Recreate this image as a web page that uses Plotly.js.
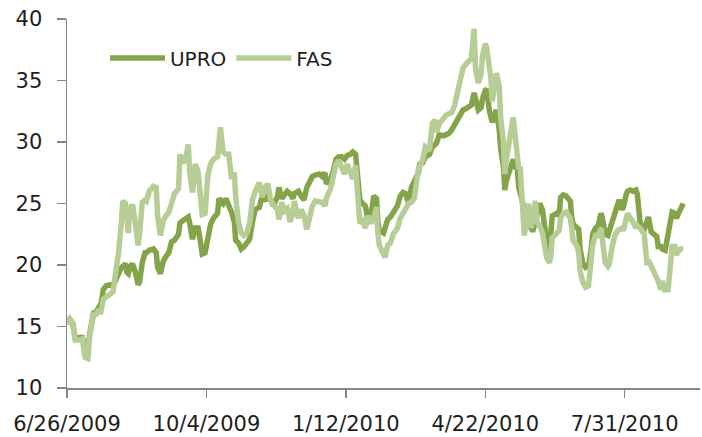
<!DOCTYPE html>
<html>
<head>
<meta charset="utf-8">
<script src="https://cdn.plot.ly/plotly-3.0.1.min.js"></script>
<style>html,body{margin:0;padding:0;background:#fff;}#chart{width:702px;height:437px;}</style>
</head>
<body>
<div id="chart"></div>
<script>
const dates = [
"2009-06-26","2009-06-28","2009-06-30","2009-07-02","2009-07-05","2009-07-07","2009-07-09","2009-07-11","2009-07-12","2009-07-15",
"2009-07-17","2009-07-19","2009-07-20","2009-07-22","2009-07-24","2009-07-27","2009-07-29","2009-07-31","2009-08-02","2009-08-04",
"2009-08-05","2009-08-07","2009-08-08","2009-08-09","2009-08-10","2009-08-12","2009-08-14","2009-08-16","2009-08-17","2009-08-19",
"2009-08-21","2009-08-22","2009-08-24","2009-08-27","2009-08-29","2009-08-30","2009-09-01","2009-09-03","2009-09-05","2009-09-07",
"2009-09-09","2009-09-11","2009-09-14","2009-09-15","2009-09-17","2009-09-19","2009-09-21","2009-09-22","2009-09-24","2009-09-26",
"2009-09-28","2009-09-29","2009-10-01","2009-10-03","2009-10-05","2009-10-07","2009-10-09","2009-10-12","2009-10-13","2009-10-14",
"2009-10-16","2009-10-18","2009-10-20","2009-10-22","2009-10-24","2009-10-25","2009-10-27","2009-10-29","2009-10-31","2009-11-02",
"2009-11-04","2009-11-06","2009-11-08","2009-11-11","2009-11-13","2009-11-15","2009-11-17","2009-11-19","2009-11-21","2009-11-24",
"2009-11-25","2009-11-27","2009-11-29","2009-12-01","2009-12-03","2009-12-05","2009-12-06","2009-12-09","2009-12-11","2009-12-13",
"2009-12-15","2009-12-17","2009-12-19","2009-12-21","2009-12-24","2009-12-26","2009-12-28","2009-12-29","2010-01-01","2010-01-03",
"2010-01-05","2010-01-07","2010-01-09","2010-01-11","2010-01-13","2010-01-15","2010-01-17","2010-01-19","2010-01-21","2010-01-22",
"2010-01-24","2010-01-26","2010-01-28","2010-01-30","2010-02-01","2010-02-03","2010-02-04","2010-02-05","2010-02-08","2010-02-09",
"2010-02-11","2010-02-13","2010-02-15","2010-02-18","2010-02-20","2010-02-22","2010-02-24","2010-02-26","2010-02-28","2010-03-02",
"2010-03-05","2010-03-06","2010-03-08","2010-03-10","2010-03-13","2010-03-15","2010-03-17","2010-03-18","2010-03-20","2010-03-23",
"2010-03-25","2010-03-27","2010-03-29","2010-03-31","2010-04-02","2010-04-04","2010-04-06","2010-04-08","2010-04-10","2010-04-12",
"2010-04-14","2010-04-15","2010-04-17","2010-04-19","2010-04-20","2010-04-22","2010-04-23","2010-04-25","2010-04-26","2010-04-27",
"2010-04-29","2010-04-30","2010-05-02","2010-05-03","2010-05-05","2010-05-06","2010-05-07","2010-05-09","2010-05-10","2010-05-12",
"2010-05-13","2010-05-15","2010-05-16","2010-05-17","2010-05-19","2010-05-20","2010-05-22","2010-05-23","2010-05-25","2010-05-26",
"2010-05-28","2010-05-29","2010-05-31","2010-06-02","2010-06-04","2010-06-05","2010-06-07","2010-06-08","2010-06-09","2010-06-12",
"2010-06-14","2010-06-15","2010-06-17","2010-06-19","2010-06-22","2010-06-23","2010-06-24","2010-06-27","2010-06-28","2010-06-29",
"2010-07-01","2010-07-03","2010-07-05","2010-07-07","2010-07-08","2010-07-10","2010-07-12","2010-07-14","2010-07-15","2010-07-17",
"2010-07-19","2010-07-20","2010-07-22","2010-07-24","2010-07-26","2010-07-27","2010-07-29","2010-07-30","2010-08-01","2010-08-02",
"2010-08-04","2010-08-06","2010-08-08","2010-08-09","2010-08-11","2010-08-12","2010-08-14","2010-08-16","2010-08-17","2010-08-19",
"2010-08-21","2010-08-23","2010-08-24","2010-08-26","2010-08-27","2010-08-29","2010-08-30","2010-08-31","2010-09-02","2010-09-03",
"2010-09-05","2010-09-06","2010-09-08","2010-09-09","2010-09-11"
];
const upro = [
15.3,15.6,15.3,14.0,14.1,14.1,13.3,13.0,14.2,16.1,
16.2,16.6,16.5,18.0,18.3,18.4,18.3,18.8,19.5,19.8,
19.9,20.1,19.4,19.3,19.8,20.1,19.4,18.4,18.6,20.2,
21.0,21.0,21.2,21.3,21.0,19.8,19.3,20.3,20.7,21.0,
21.9,22.0,22.5,23.4,23.6,23.8,23.9,23.4,22.1,23.0,
23.0,22.4,20.9,21.0,22.3,23.3,23.8,24.2,25.4,25.3,
25.0,25.4,24.9,24.3,23.5,22.0,21.8,21.3,21.5,21.9,
22.1,23.5,24.5,24.7,25.6,25.2,25.8,25.3,24.8,25.6,
26.3,25.4,25.7,26.0,25.8,25.4,25.8,26.0,25.6,25.3,
26.3,26.8,27.2,27.3,27.4,27.2,27.5,26.6,27.0,27.6,
28.6,28.8,28.8,28.6,28.9,29.0,29.2,29.0,26.0,25.3,
25.0,24.8,23.6,24.0,25.6,25.4,23.5,22.8,22.6,23.0,
23.7,23.9,24.2,24.8,25.6,25.9,25.8,25.0,26.3,26.8,
27.5,28.2,28.3,28.8,29.0,29.6,29.9,29.9,30.6,30.5,
30.6,30.7,31.0,31.4,31.8,32.2,32.6,32.7,32.8,33.0,
34.0,33.5,32.6,32.8,33.5,34.2,34.3,32.5,31.8,31.6,
32.3,32.6,31.0,29.5,28.0,26.1,26.8,27.5,28.0,28.6,
28.0,27.8,26.3,25.8,25.0,23.6,23.8,23.0,23.2,22.7,
23.4,24.0,25.0,24.5,22.8,21.3,21.2,22.5,24.0,24.2,
24.0,25.5,25.7,25.6,25.2,23.9,23.3,23.0,22.9,21.3,
20.1,19.8,19.9,21.3,22.5,23.0,23.2,24.2,23.8,22.5,
22.4,22.8,23.5,24.3,25.0,25.3,24.5,24.7,25.7,26.0,
26.1,26.0,26.1,25.8,23.5,23.0,22.9,23.8,23.9,22.7,
22.5,22.3,21.5,21.5,21.3,21.2,21.8,22.5,23.8,24.3,
24.2,23.8,24.3,24.6,25.0
];
const fas = [
15.2,15.6,15.3,13.9,13.9,14.0,12.5,12.4,14.0,16.0,
16.0,16.4,16.0,17.2,17.4,17.7,17.8,19.5,21.0,23.5,
25.2,25.0,24.0,22.6,24.5,24.9,23.4,21.6,22.5,25.1,
25.3,25.2,26.0,26.4,26.3,24.0,22.4,23.6,24.0,24.3,
25.0,25.8,26.2,29.0,28.3,28.6,29.8,27.5,25.9,28.2,
27.6,26.2,24.1,24.2,27.3,28.2,28.6,28.8,30.5,31.2,
29.2,29.0,29.0,27.0,27.5,25.5,23.5,22.6,22.4,22.6,
23.4,25.3,26.0,26.7,25.5,26.3,26.6,25.3,24.9,24.5,
23.7,25.1,24.4,24.6,23.5,24.2,25.2,23.8,24.5,24.0,
22.9,24.0,24.8,25.2,25.2,25.1,24.8,25.4,26.2,27.1,
28.2,28.5,28.0,27.4,28.2,27.6,27.0,28.1,24.0,23.4,
23.6,23.0,24.0,23.4,23.8,24.7,22.5,21.6,20.9,20.6,
21.6,21.8,22.5,23.0,23.8,24.2,24.5,25.0,25.1,25.4,
27.8,28.0,28.5,29.6,29.3,31.5,31.8,30.8,31.5,31.9,
32.2,32.3,32.4,33.0,34.0,35.2,36.0,36.3,36.5,36.8,
39.2,36.0,34.8,35.5,37.0,38.0,37.6,36.4,35.2,33.3,
34.8,35.6,34.5,32.0,30.0,27.4,28.5,29.8,31.0,32.0,
31.0,28.8,27.8,28.0,25.0,22.4,24.0,25.0,23.0,24.0,
25.2,23.5,23.2,22.6,21.6,20.6,20.2,20.7,22.2,22.6,
22.8,23.8,24.2,24.3,23.8,23.0,22.0,21.5,21.0,19.5,
18.6,18.2,18.3,20.5,21.6,22.4,22.4,23.0,22.2,20.2,
19.9,20.1,21.5,22.4,22.8,22.9,23.0,22.8,23.5,24.2,
23.8,23.5,23.0,23.2,23.0,22.8,22.5,20.0,20.4,19.9,
19.5,19.0,18.7,18.0,18.7,17.8,18.4,17.8,20.0,21.5,
21.5,20.8,21.2,21.3,21.3
];
const seriesNames = ["UPRO", "FAS"];
const tickDates = ["2009-06-26","2009-10-04","2010-01-12","2010-04-22","2010-07-31"];
const tickLabels = ["6/26/2009","10/4/2009","1/12/2010","4/22/2010","7/31/2010"];
const yTicks = [10,15,20,25,30,35,40];

const tickFont = {family: "DejaVu Sans, Verdana, sans-serif", size: 21, color: "#1e1e1e"};
const legendFont = {family: "DejaVu Sans, Verdana, sans-serif", size: 20, color: "#1e1e1e"};
const traces = [
  {x: dates, y: upro, name: seriesNames[0], type: "scatter", mode: "lines",
   line: {color: "#84a44a", width: 5.5}},
  {x: dates, y: fas, name: seriesNames[1], type: "scatter", mode: "lines",
   line: {color: "#b6cd95", width: 5.5}}
];
const layout = {
  width: 702, height: 437,
  margin: {l: 67, r: 2, t: 19, b: 49},
  paper_bgcolor: "#fff", plot_bgcolor: "#fff",
  font: tickFont,
  showlegend: true,
  legend: {orientation: "h", x: 0.06, xanchor: "left", y: 0.894, yanchor: "middle",
           font: legendFont, bgcolor: "rgba(0,0,0,0)", itemwidth: 55},
  xaxis: {type: "date", range: ["2009-06-26", "2010-09-23"],
          tickvals: tickDates, ticktext: tickLabels,
          showgrid: false, zeroline: false, showline: true, linecolor: "#868686", linewidth: 1.5,
          ticks: "outside", ticklen: 8, tickcolor: "#868686", tickwidth: 1.5,
          tickfont: tickFont, ticklabelstandoff: 8},
  yaxis: {range: [10, 40], tickvals: yTicks,
          showgrid: false, zeroline: false, showline: true, linecolor: "#868686", linewidth: 1.5,
          ticks: "outside", ticklen: 9, tickcolor: "#868686", tickwidth: 1.5,
          tickfont: tickFont, ticklabelstandoff: 10}
};
Plotly.newPlot("chart", traces, layout, {displayModeBar: false, staticPlot: true});
</script>
</body>
</html>
